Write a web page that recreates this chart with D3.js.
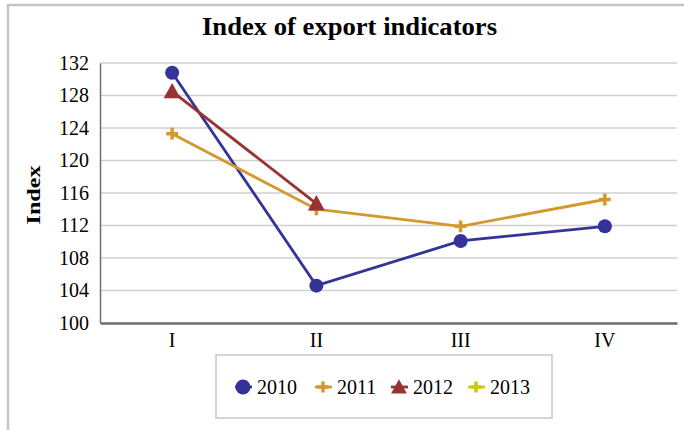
<!DOCTYPE html>
<html>
<head>
<meta charset="utf-8">
<script src="https://cdn.jsdelivr.net/npm/d3@7/dist/d3.min.js"></script>
<style>
  html, body { margin: 0; padding: 0; background: #fff; }
  svg { display: block; font-family: "Liberation Serif", "Times New Roman", serif; }
</style>
</head>
<body>
<svg id="chart" width="684" height="430"></svg>
<script>
// Quarterly export index by year
const quarters = ["I", "II", "III", "IV"];
const years = ["2010", "2011", "2012", "2013"];
const values2010 = [130.8, 104.6, 110.1, 111.9];
const values2011 = [123.3, 114.0, 111.9, 115.2];
const values2012 = [128.5, 114.7, null, null];
const values2013 = [null, null, null, null];
const yTicks = [100, 104, 108, 112, 116, 120, 124, 128, 132];

const series = [
  { name: years[0], values: values2010, color: "#333399", marker: "circle" },
  { name: years[1], values: values2011, color: "#D4992E", marker: "plus" },
  { name: years[2], values: values2012, color: "#993333", marker: "triangle" },
  { name: years[3], values: values2013, color: "#CCCC00", marker: "plus" }
];

const svg = d3.select("#chart");

// chart frame
svg.append("line").attr("x1", 8).attr("x2", 684).attr("y1", 5).attr("y2", 5)
  .attr("stroke", "#c4c4c4").attr("stroke-width", 2.5);
svg.append("line").attr("x1", 8).attr("x2", 8).attr("y1", 4).attr("y2", 430)
  .attr("stroke", "#c4c4c4").attr("stroke-width", 2.5);

const plot = { left: 100, right: 677, top: 63, bottom: 323 };

const x = d3.scaleBand().domain(quarters).range([plot.left, plot.right]);
const y = d3.scaleLinear().domain([100, 132]).range([plot.bottom, plot.top]);

// title
svg.append("text").attr("x", 349.5).attr("y", 34.5).attr("text-anchor", "middle")
  .attr("font-size", 25.5).attr("font-weight", "bold").attr("fill", "#000")
  .attr("textLength", 295).attr("lengthAdjust", "spacingAndGlyphs")
  .text("Index of export indicators");

// horizontal gridlines
svg.append("g").selectAll("line").data(yTicks.slice(1)).join("line")
  .attr("x1", plot.left).attr("x2", plot.right)
  .attr("y1", d => y(d)).attr("y2", d => y(d))
  .attr("stroke", "#d0d0d0").attr("stroke-width", 1.5);

// y axis
const yAxis = svg.append("g").attr("transform", `translate(${plot.left},0)`)
  .call(d3.axisLeft(y).tickValues(yTicks).tickSize(0).tickPadding(11));
yAxis.select(".domain").attr("stroke", "#6e6e6e").attr("stroke-width", 1.5);
yAxis.selectAll("text").attr("font-size", 20).attr("fill", "#000")
  .attr("font-family", "Liberation Serif, Times New Roman, serif");

// x axis
const xAxis = svg.append("g").attr("transform", `translate(0,${plot.bottom})`)
  .call(d3.axisBottom(x).tickSize(0).tickPadding(10));
xAxis.select(".domain").attr("stroke", "#6e6e6e").attr("stroke-width", 2.5);
xAxis.selectAll("text").attr("font-size", 20).attr("fill", "#000")
  .attr("font-family", "Liberation Serif, Times New Roman, serif");

// y axis title
svg.append("text").attr("transform", "translate(40,195) rotate(-90)")
  .attr("text-anchor", "middle").attr("font-size", 19.5).attr("font-weight", "bold")
  .attr("textLength", 59).attr("lengthAdjust", "spacingAndGlyphs")
  .text("Index");

function drawMarker(g, type, color, size) {
  if (type === "circle") {
    g.append("circle").attr("r", size * 0.5).attr("fill", color);
  } else if (type === "triangle") {
    const s = size * 1.1;
    g.append("path").attr("d", `M0,${-s * 0.55}L${s * 0.55},${s * 0.45}L${-s * 0.55},${s * 0.45}Z`)
      .attr("fill", color);
  } else {
    const s = size * 0.42;
    g.append("path").attr("d", `M${-s},0H${s}M0,${-s}V${s}`)
      .attr("stroke", color).attr("stroke-width", 3.5).attr("fill", "none");
  }
}

const line = d3.line()
  .defined(d => d != null)
  .x((d, i) => x(quarters[i]) + x.bandwidth() / 2)
  .y(d => y(d));

const lineLayer = svg.append("g");
const markerLayer = svg.append("g");
series.forEach(s => {
  lineLayer.append("path").datum(s.values)
    .attr("d", line)
    .attr("fill", "none").attr("stroke", s.color).attr("stroke-width", 2.8);
  s.values.forEach((v, i) => {
    if (v == null) return;
    const g = markerLayer.append("g")
      .attr("transform", `translate(${x(quarters[i]) + x.bandwidth() / 2},${y(v)})`);
    drawMarker(g, s.marker, s.color, 14);
  });
});

// legend
const legend = svg.append("g");
legend.append("rect").attr("x", 216).attr("y", 355).attr("width", 336).attr("height", 63)
  .attr("fill", "#fff").attr("stroke", "#c8c8c8").attr("stroke-width", 1.5);
const legendX = [243, 323, 399, 476];
series.forEach((s, i) => {
  const g = legend.append("g").attr("transform", `translate(${legendX[i]},387)`);
  g.append("line").attr("x1", -8).attr("x2", 9).attr("stroke", s.color).attr("stroke-width", 2.8);
  drawMarker(g, s.marker, s.color, s.marker === "circle" ? 15 : 13);
  g.append("text").attr("x", 14).attr("y", 7).attr("font-size", 20).attr("fill", "#000")
    .text(s.name);
});
</script>
</body>
</html>
